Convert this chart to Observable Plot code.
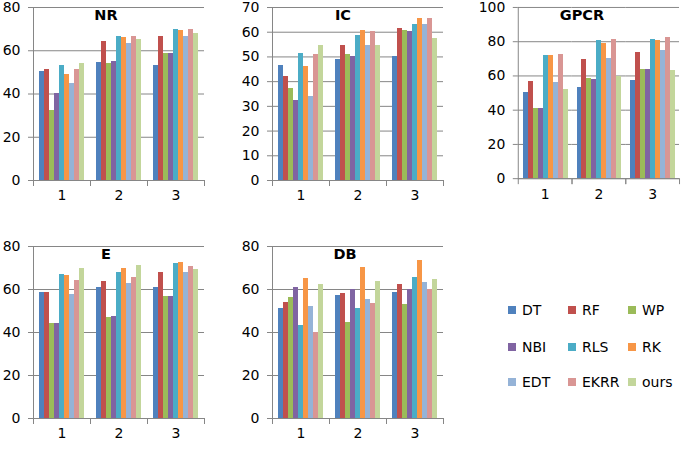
<!DOCTYPE html>
<html><head><meta charset="utf-8">
<script src="https://cdn.jsdelivr.net/npm/d3@7"></script>
<script src="https://cdn.jsdelivr.net/npm/@observablehq/plot@0.6"></script>
<style>
body{margin:0;background:#fff;}
#root{position:relative;width:685px;height:449px;overflow:hidden;font-family:"DejaVu Sans",sans-serif;color:#000;}
.panel{position:absolute;}
.title{position:absolute;font-weight:bold;font-size:14.5px;transform:translate(-50%,-50%);white-space:nowrap;line-height:1;}
.lg{position:absolute;font-size:14px;line-height:1;white-space:nowrap;transform:translateY(-50%);display:flex;align-items:center;}
.lg i{display:inline-block;width:8px;height:8px;margin-right:6px;}
</style></head><body><div id="root"></div>
<script>
const series = ["DT","RF","WP","NBI","RLS","RK","EDT","EKRR","ours"];
const groups = ["1","2","3"];
const colors = ["#4F81BD","#C0504D","#9BBB59","#8064A2","#4BACC6","#F79646","#95B3D7","#D99694","#C3D69B"];

const NR = [
  [50.2, 51.2, 32.6, 40.4, 53.0, 49.2, 45.0, 51.1, 54.0],
  [54.6, 64.2, 54.2, 55.0, 66.4, 66.0, 63.4, 66.4, 65.4],
  [53.4, 66.6, 58.5, 58.8, 70.0, 69.4, 66.8, 69.7, 68.2]
];
const IC = [
  [46.7, 41.9, 37.3, 32.4, 51.4, 46.3, 33.9, 51.0, 54.5],
  [48.8, 54.8, 51.0, 50.3, 58.8, 60.8, 54.5, 60.3, 54.5],
  [50.3, 61.5, 60.8, 60.3, 63.0, 65.5, 63.0, 65.6, 57.3]
];
const GPCR = [
  [50.5, 57.0, 41.0, 41.0, 72.0, 72.0, 56.0, 72.8, 51.8],
  [53.4, 69.7, 58.8, 58.1, 80.6, 79.2, 70.0, 81.0, 59.6],
  [57.5, 73.8, 64.0, 64.0, 81.4, 80.6, 75.1, 82.5, 63.0]
];
const E = [
  [58.6, 58.6, 44.0, 44.3, 67.1, 66.7, 57.8, 64.0, 70.0],
  [61.0, 63.9, 47.1, 47.4, 68.0, 70.0, 62.9, 65.7, 71.3],
  [61.0, 67.9, 56.7, 56.9, 72.2, 72.7, 68.0, 70.8, 69.4]
];
const DB = [
  [51.2, 54.1, 56.4, 60.8, 43.4, 65.3, 52.2, 40.0, 62.3],
  [57.0, 58.3, 44.6, 60.2, 51.3, 70.4, 55.5, 53.3, 63.7],
  [58.8, 62.2, 53.0, 59.8, 65.7, 73.6, 63.3, 60.2, 64.5]
];

const gray = "#868686";
const root = document.getElementById("root");

const layout = [
  {name:"NR",   values:NR,   yMax:80,  yStep:20, left:0,   top:0,   ml:33, pw:171, ph:173, tx:106, ty:15},
  {name:"IC",   values:IC,   yMax:70,  yStep:10, left:232, top:0,   ml:40, pw:171, ph:173, tx:343, ty:15},
  {name:"GPCR", values:GPCR, yMax:100, yStep:20, left:470, top:0,   ml:48, pw:162, ph:172, tx:582, ty:15},
  {name:"E",    values:E,    yMax:80,  yStep:20, left:0,   top:239, ml:33, pw:171, ph:172, tx:106, ty:254},
  {name:"DB",   values:DB,   yMax:80,  yStep:20, left:231, top:239, ml:40, pw:172, ph:172, tx:345, ty:254}
];

for (const p of layout) {
  const data = [];
  groups.forEach((g, i) => series.forEach((s, j) => data.push({group: g, series: s, value: p.values[i][j]})));
  const ticks = d3.range(0, p.yMax + 1, p.yStep);
  const mt = 7, mb = 26, mr = 6;
  const chart = Plot.plot({
    width: p.ml + p.pw + mr, height: mt + p.ph + mb,
    marginLeft: p.ml, marginTop: mt, marginRight: mr, marginBottom: mb,
    style: {fontFamily: "DejaVu Sans", fontSize: "14px", color: "#000", background: "transparent", overflow: "visible"},
    fx: {domain: groups, padding: 0, label: null},
    x: {domain: series, paddingInner: 0, paddingOuter: 0.72, axis: null},
    y: {domain: [0, p.yMax], label: null},
    color: {domain: series, range: colors},
    marks: [
      Plot.gridY(ticks, {stroke: gray, strokeOpacity: 1}),
      Plot.barY(data, {fx: "group", x: "series", y: "value", fill: "series", shapeRendering: "crispEdges"}),
      Plot.axisY(ticks, {tickSize: 5, tickPadding: 8, stroke: gray, fill: "#000", fontSize: 14, label: null}),
      Plot.axisFx({anchor: "bottom", tickSize: 0, tickPadding: 10, fill: "#000", fontSize: 14, label: null}),
      Plot.ruleY([0], {stroke: gray}),
      Plot.frame({anchor: "left", stroke: gray, facetAnchor: "left"}),
      Plot.frame({anchor: "left", stroke: gray, insetTop: p.ph, insetBottom: -5}),
      Plot.frame({anchor: "right", stroke: gray, insetTop: p.ph, insetBottom: -5})
    ]
  });
  const wrap = document.createElement("div");
  wrap.className = "panel";
  wrap.style.left = p.left + "px";
  wrap.style.top = p.top + "px";
  wrap.appendChild(chart);
  root.appendChild(wrap);
  const t = document.createElement("div");
  t.className = "title";
  t.textContent = p.name;
  t.style.left = p.tx + "px";
  t.style.top = p.ty + "px";
  root.appendChild(t);
}

// legend
const lgCols = [508, 568, 628];
const lgRows = [310, 347, 382];
series.forEach((s, i) => {
  const el = document.createElement("div");
  el.className = "lg";
  el.style.left = lgCols[i % 3] + "px";
  el.style.top = lgRows[Math.floor(i / 3)] + "px";
  const sw = document.createElement("i");
  sw.style.background = colors[i];
  el.appendChild(sw);
  el.appendChild(document.createTextNode(s));
  root.appendChild(el);
});
</script></body></html>
